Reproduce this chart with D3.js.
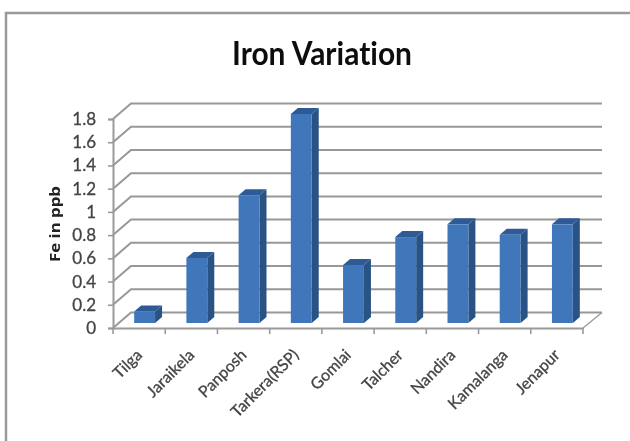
<!DOCTYPE html>
<html>
<head>
<meta charset="utf-8">
<script src="https://cdn.jsdelivr.net/npm/d3@7"></script>
<style>
html, body { margin: 0; padding: 0; background: #fff; }
svg { display: block; }
text { font-variant-ligatures: none; }
.tick text { font-family: Lato, sans-serif; stroke: #444; stroke-width: 0.3px; }
</style>
</head>
<body>
<svg id="chart" width="630" height="441"></svg>
<script>
var categories = ["Tilga", "Jaraikela", "Panposh", "Tarkera(RSP)", "Gomlai", "Talcher", "Nandira", "Kamalanga", "Jenapur"];
var ironValues = [0.1, 0.56, 1.1, 1.8, 0.5, 0.74, 0.85, 0.76, 0.85];
var yTicks = [0, 0.2, 0.4, 0.6, 0.8, 1, 1.2, 1.4, 1.6, 1.8];

var svg = d3.select("#chart");
var plotLeft = 113, plotRight = 583, plotBottom = 328, plotTop = 119;
var wallX = 18, wallY = -15.5;   // how far the back wall sits from the front axis
var barX = 5.5, barY = -5;       // bars stand a little behind the axis
var depthX = 7, depthY = -6;     // depth of each bar
var grid = "#989898", axisCol = "#9a9a9a";

var defs = svg.append("defs");
defs.append("filter").attr("id", "soft")
    .append("feGaussianBlur").attr("stdDeviation", 0.55);

var g = svg.append("g").attr("filter", "url(#soft)");

// outer frame, only top and left show in the picture
g.append("path").attr("d", "M630,13H6V441").attr("fill", "none").attr("stroke", "#9a9a9a").attr("stroke-width", 2.5);

var x = d3.scaleBand().domain(categories).range([plotLeft, plotRight]).paddingInner(0.6).paddingOuter(0.3);
var y = d3.scaleLinear().domain([0, 1.8]).range([plotBottom, plotTop]);

// back wall lines and the left side wall
g.selectAll(".wall").data(yTicks).enter().append("path")
    .attr("class", "wall")
    .attr("fill", "none").attr("stroke", grid).attr("stroke-width", 2)
    .attr("d", function(d) {
        return "M" + plotLeft + "," + y(d) + "L" + (plotLeft + wallX) + "," + (y(d) + wallY) + "H" + (plotRight + wallX + 1);
    });

// floor right edge
g.append("path").attr("fill", "none").attr("stroke", axisCol).attr("stroke-width", 1.4)
    .attr("d", "M" + plotRight + "," + plotBottom + "L" + (plotRight + wallX + 1) + "," + (plotBottom + wallY));

// y axis
var yAxis = g.append("g")
    .attr("transform", "translate(" + plotLeft + ",0)")
    .call(d3.axisLeft(y).tickValues(yTicks).tickFormat(d3.format("~g")).tickSize(5).tickPadding(12));
yAxis.select(".domain").attr("stroke", axisCol).attr("stroke-width", 2);
yAxis.selectAll("line").attr("stroke", axisCol).attr("stroke-width", 1.6);
yAxis.selectAll("text").attr("font-size", 17).attr("fill", "#444");

// x axis, labels from the axis and ticks on the band edges
var xAxis = g.append("g")
    .attr("transform", "translate(0," + plotBottom + ")")
    .call(d3.axisBottom(x).tickSize(0));
xAxis.select(".domain").attr("stroke", axisCol).attr("stroke-width", 2);
xAxis.selectAll("text")
    .attr("font-size", 16).attr("fill", "#444")
    .attr("text-anchor", "end")
    .attr("dy", null)
    .attr("y", 0)
    .attr("transform", "translate(4,28) rotate(-45)");

var edges = categories.map(function(c) { return x(c) - x.step() * x.paddingOuter(); });
edges.push(plotRight);
g.selectAll(".edge").data(edges).enter().append("line")
    .attr("class", "edge")
    .attr("x1", function(d) { return d; }).attr("x2", function(d) { return d; })
    .attr("y1", plotBottom).attr("y2", plotBottom + 6)
    .attr("stroke", axisCol).attr("stroke-width", 1.6);

// bars: front, side and top faces
var bars = g.selectAll(".bar")
    .data(categories.map(function(c, i) { return {name: c, value: ironValues[i]}; }))
    .enter().append("g").attr("class", "bar")
    .attr("transform", "translate(" + barX + "," + barY + ")");

var w = x.bandwidth();

bars.append("path").attr("fill", "#2a5285")
    .attr("d", function(d) {
        var l = x(d.name) + w;
        return "M" + l + "," + y(d.value) + "l" + depthX + "," + depthY + "V" + (plotBottom + depthY) + "l" + (-depthX) + "," + (-depthY) + "Z";
    });
bars.append("path").attr("fill", "#2e5a96")
    .attr("d", function(d) {
        var l = x(d.name);
        return "M" + l + "," + y(d.value) + "l" + depthX + "," + depthY + "h" + w + "l" + (-depthX) + "," + (-depthY) + "Z";
    });
bars.append("rect").attr("fill", "#4177bb")
    .attr("x", function(d) { return x(d.name); })
    .attr("width", w)
    .attr("y", function(d) { return y(d.value); })
    .attr("height", function(d) { return plotBottom - y(d.value); });

g.append("text").attr("x", 322).attr("y", 65)
    .attr("text-anchor", "middle")
    .attr("textLength", 180).attr("lengthAdjust", "spacingAndGlyphs")
    .attr("font-family", "Lato, sans-serif").attr("font-weight", 700).attr("font-size", 32).attr("fill", "#111")
    .text("Iron Variation");

g.append("text").attr("transform", "translate(60,224) rotate(-90)")
    .attr("text-anchor", "middle")
    .attr("textLength", 76).attr("lengthAdjust", "spacingAndGlyphs")
    .attr("font-family", "'Open Sans', sans-serif").attr("font-weight", 700).attr("font-size", 14.5).attr("fill", "#222")
    .text("Fe in ppb");
</script>
</body>
</html>
